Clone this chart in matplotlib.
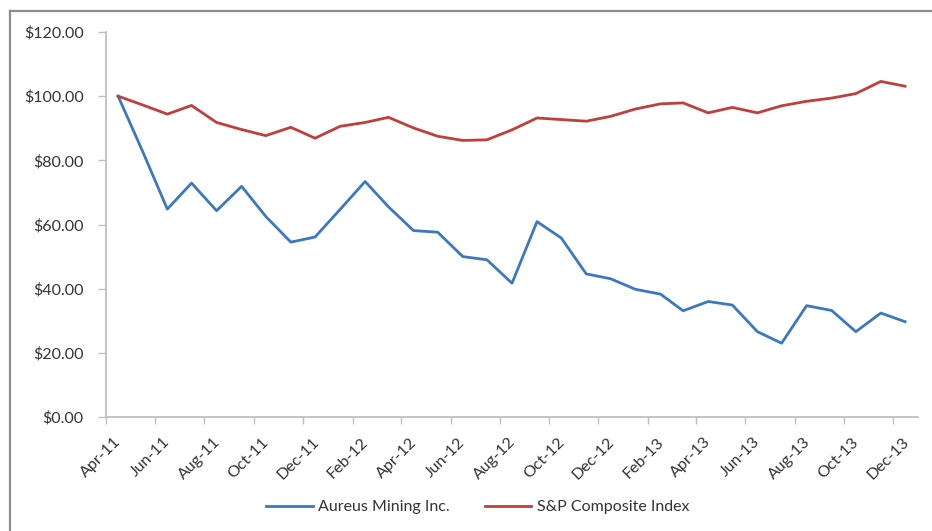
import pandas as pd
import numpy as np
import matplotlib
matplotlib.use("Agg")
import matplotlib.pyplot as plt
import matplotlib.dates as mdates
from matplotlib.lines import Line2D
from matplotlib.transforms import ScaledTranslation
from matplotlib.ticker import FuncFormatter

# data (monthly, Apr-11 .. Dec-13)
months = pd.date_range("2011-04-01", periods=33, freq="MS")
aureus = [100.0, 83.0, 64.8, 72.9, 64.3, 71.9, 62.5, 54.5, 56.1, 64.7, 73.4,
          65.5, 58.1, 57.6, 50.0, 49.0, 41.7, 60.9, 55.8, 44.6, 43.1, 39.8,
          38.3, 33.1, 36.0, 34.9, 26.6, 23.0, 34.7, 33.2, 26.6, 32.4, 29.7]
sp_index = [100.0, 97.3, 94.4, 97.1, 91.8, 89.6, 87.7, 90.3, 86.9, 90.6, 91.8,
            93.4, 90.1, 87.5, 86.2, 86.4, 89.5, 93.2, 92.7, 92.2, 93.7, 96.0,
            97.6, 97.9, 94.8, 96.5, 94.8, 97.0, 98.4, 99.4, 100.8, 104.6, 103.1]
series_names = ["Aureus Mining Inc.", "S&P Composite Index"]
colors = ["#3C78C0", "#BE3F3C"]

plt.rcParams['font.family'] = ['Lato', 'DejaVu Sans']

# points sit in the middle of each month (Excel "between tick marks")
x = months + pd.Timedelta(days=15)

fig = plt.figure(figsize=(9.32, 5.31), dpi=100)
ax = fig.add_axes([106/932, 1-417/531, (918-106)/932, (417-32)/531])

ax.plot(x, aureus, color=colors[0], lw=2.0, label=series_names[0])
ax.plot(x, sp_index, color=colors[1], lw=2.0, label=series_names[1])

ax.set_ylim(0, 120)
ax.set_yticks(np.arange(0, 121, 20))
ax.yaxis.set_major_formatter(FuncFormatter(lambda v, p: "${:,.2f}".format(v)))
ax.set_xlim(pd.Timestamp("2011-04-01"), pd.Timestamp("2014-01-01"))
ax.xaxis.set_major_locator(mdates.MonthLocator(bymonth=[2, 4, 6, 8, 10, 12]))
ax.xaxis.set_major_formatter(mdates.DateFormatter("%b-%y"))

for s in ["top", "right"]:
    ax.spines[s].set_visible(False)
for s in ["left", "bottom"]:
    ax.spines[s].set_color("#BFBFBF")
    ax.spines[s].set_linewidth(1.3)

ax.tick_params(axis="y", direction="out", length=6, width=1, color="#BFBFBF",
               labelsize=11.5, labelcolor="#333333", pad=10)
ax.tick_params(axis="x", direction="out", length=5, width=1, color="#BFBFBF",
               labelsize=11.5, labelcolor="#333333", pad=8)
off = ScaledTranslation(-5/100, 0, fig.dpi_scale_trans)
for lab in ax.get_xticklabels():
    lab.set_rotation(45)
    lab.set_ha("center")
    lab.set_transform(lab.get_transform() + off)

fig.legend(loc="center", bbox_to_anchor=(478/932, 1-507/531), ncol=2,
           frameon=False, fontsize=11.5, handlelength=2.9, handletextpad=0.35,
           columnspacing=2.2, labelcolor="#333333")

# chart area border (clipped at right/bottom in the original)
fig.add_artist(Line2D([10/932, 1.0], [1-10.5/531, 1-10.5/531], color="#8C8C8C", lw=1.6))
fig.add_artist(Line2D([10/932, 10/932], [1-10.5/531, 0.0], color="#8C8C8C", lw=1.6))

fig.savefig("out.png", dpi=100)
